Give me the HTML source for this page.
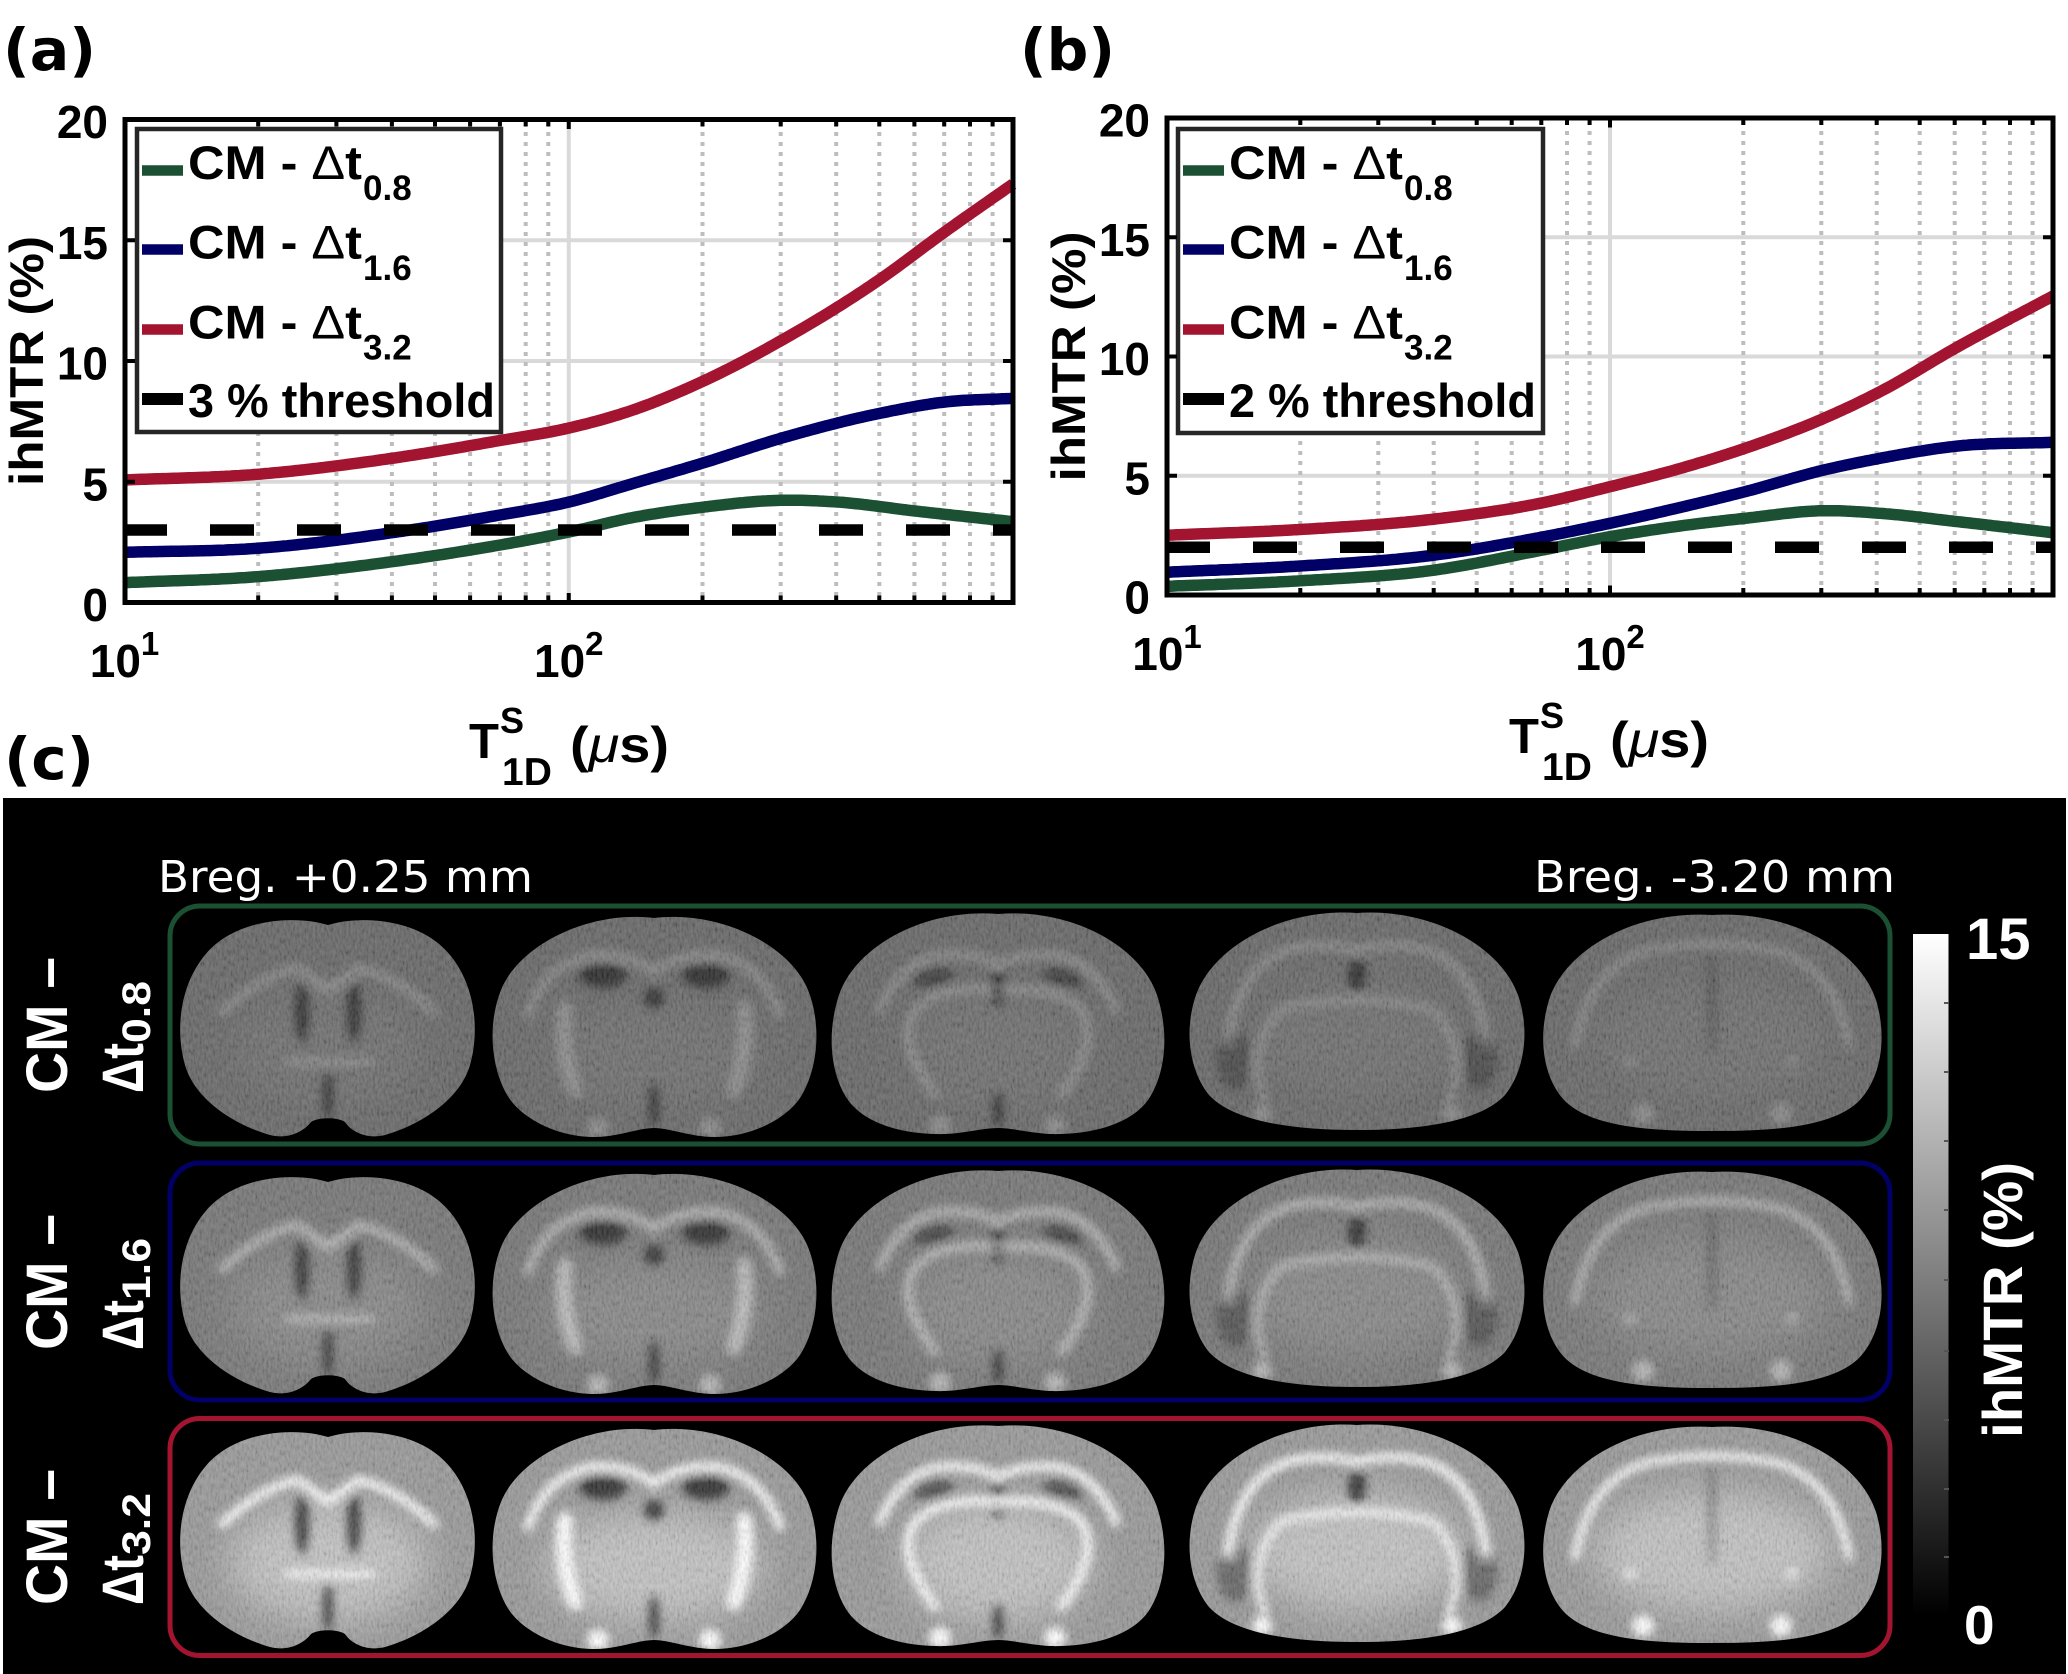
<!DOCTYPE html>
<html><head><meta charset="utf-8"><style>html,body{margin:0;padding:0;background:#fff;}svg{display:block;}</style></head>
<body>
<svg width="2068" height="1674" viewBox="0 0 2068 1674" xmlns="http://www.w3.org/2000/svg" font-family="'Liberation Sans', Arial, sans-serif">
<defs>
<linearGradient id="cb" x1="0" y1="0" x2="0" y2="1"><stop offset="0" stop-color="#ffffff"/><stop offset="1" stop-color="#000000"/></linearGradient>
<filter id="bl" x="-10%" y="-20%" width="120%" height="140%"><feGaussianBlur stdDeviation="4.5"/></filter>
<filter id="bl2" x="-10%" y="-30%" width="120%" height="160%"><feGaussianBlur stdDeviation="18"/></filter>
<filter id="nz" filterUnits="userSpaceOnUse" x="160" y="895" width="1740" height="260">
 <feTurbulence type="fractalNoise" baseFrequency="0.45 0.18" numOctaves="2" seed="3"/>
 <feColorMatrix type="matrix" values="1.6 0 0 0 -0.3  1.6 0 0 0 -0.3  1.6 0 0 0 -0.3  0 0 0 0 0.16"/>
</filter>
<path id="b1" d="M328 925 C360 915 420 918 450 955 C475 985 480 1030 470 1065 C460 1100 420 1125 385 1135 C365 1140 350 1130 345 1122 C338 1117 318 1117 311 1122 C305 1130 290 1140 270 1135 C235 1125 195 1100 185 1065 C175 1030 180 985 205 955 C235 918 296 915 328 925 Z"/>
<path id="b2" d="M654 918 C720 910 790 945 808 990 C822 1025 818 1070 800 1098 C785 1120 750 1137 715 1137 C690 1137 670 1128 654 1128 C638 1128 618 1137 594 1137 C559 1137 524 1120 509 1098 C491 1070 487 1025 501 990 C519 945 589 910 654 918 Z"/>
<path id="b3" d="M998 914 C1070 908 1140 945 1157 995 C1170 1035 1165 1075 1148 1100 C1130 1125 1090 1135 1050 1134 C1030 1133 1012 1128 998 1128 C984 1128 966 1133 946 1134 C906 1135 866 1125 848 1100 C831 1075 826 1035 839 995 C856 945 926 908 998 914 Z"/>
<path id="b4" d="M1357 913 C1430 908 1500 945 1518 995 C1530 1030 1525 1070 1505 1095 C1480 1122 1420 1130 1357 1130 C1294 1130 1234 1122 1209 1095 C1189 1070 1184 1030 1196 995 C1214 945 1284 908 1357 913 Z"/>
<path id="b5" d="M1712 915 C1790 910 1860 950 1876 1000 C1888 1040 1880 1080 1858 1102 C1830 1128 1770 1131 1712 1131 C1654 1131 1594 1128 1566 1102 C1544 1080 1537 1040 1549 1000 C1565 950 1634 910 1712 915 Z"/>
<clipPath id="call"><use href="#b1"/><use href="#b2"/><use href="#b3"/><use href="#b4"/><use href="#b5"/></clipPath>
<g id="L" fill="none" stroke="#fff" stroke-width="9" stroke-linecap="round">
 <path d="M222 1012 Q262 975 298 968 L328 990 L358 968 Q394 975 434 1012"/>
 <path d="M288 1062 L372 1062" stroke-width="7"/>
 <path d="M528 1015 Q545 965 590 955 Q630 952 654 972 Q678 952 718 955 Q763 965 780 1015"/>
 <path d="M565 1008 Q560 1050 575 1090" stroke-width="16"/>
 <path d="M744 1008 Q749 1050 734 1090" stroke-width="16"/>
 <path d="M880 1010 Q900 962 940 955 Q975 952 998 965 Q1021 952 1056 955 Q1096 962 1116 1010"/>
 <path d="M935 1095 Q895 1040 915 1010 Q940 985 998 990 Q1056 985 1081 1010 Q1101 1040 1061 1095"/>
 <path d="M1228 1040 Q1240 960 1295 948 Q1330 942 1357 950 Q1384 942 1419 948 Q1474 960 1486 1040"/>
 <path d="M1265 1100 Q1245 1050 1280 1010 Q1357 990 1434 1010 Q1469 1050 1449 1100" stroke-width="7"/>
 <path d="M1575 1045 Q1590 965 1650 950 Q1712 938 1774 950 Q1834 965 1849 1045" stroke-width="8"/>
 <g fill="#fff" stroke="none">
  <circle cx="598" cy="1128" r="11"/><circle cx="710" cy="1128" r="11"/>
  <circle cx="940" cy="1126" r="11"/><circle cx="1055" cy="1126" r="11"/>
  <circle cx="1262" cy="1114" r="10"/><circle cx="1452" cy="1114" r="10"/>
  <circle cx="1643" cy="1114" r="11"/><circle cx="1781" cy="1114" r="11"/>
  <circle cx="1630" cy="1062" r="7" opacity=".6"/><circle cx="1792" cy="1062" r="7" opacity=".6"/>
 </g>
</g>
<g id="L2" fill="#fff">
 <ellipse cx="328" cy="1050" rx="100" ry="60"/>
 <ellipse cx="654" cy="1055" rx="110" ry="55"/>
 <ellipse cx="998" cy="1050" rx="95" ry="60"/>
 <ellipse cx="1357" cy="1040" rx="110" ry="60"/>
 <ellipse cx="1712" cy="1040" rx="120" ry="60"/>
</g>
<g id="D" fill="#000">
 <ellipse cx="302" cy="1012" rx="7" ry="30"/><ellipse cx="354" cy="1012" rx="7" ry="30"/><ellipse cx="328" cy="1095" rx="5" ry="25"/>
 <ellipse cx="603" cy="975" rx="24" ry="13"/><ellipse cx="706" cy="975" rx="24" ry="13"/><circle cx="654" cy="998" r="10"/><ellipse cx="654" cy="1105" rx="5" ry="22"/>
 <ellipse cx="932" cy="977" rx="22" ry="12" opacity=".7"/><ellipse cx="1064" cy="977" rx="22" ry="12" opacity=".7"/><ellipse cx="998" cy="987" rx="9" ry="18"/><ellipse cx="998" cy="1110" rx="5" ry="18"/>
 <ellipse cx="1357" cy="975" rx="9" ry="18"/><ellipse cx="1235" cy="1060" rx="18" ry="30" opacity=".5"/><ellipse cx="1479" cy="1060" rx="18" ry="30" opacity=".5"/>
 <ellipse cx="1712" cy="1000" rx="5" ry="55" opacity=".35"/>
</g>
</defs>

<rect width="2068" height="1674" fill="#fff"/>

<!-- ===== Panel (a) ===== -->
<g stroke="#d9d9d9" stroke-width="4">
 <line x1="125" y1="481.75" x2="1013" y2="481.75"/>
 <line x1="125" y1="361" x2="1013" y2="361"/>
 <line x1="125" y1="240.25" x2="1013" y2="240.25"/>
 <line x1="568.75" y1="119.5" x2="568.75" y2="602.5"/>
</g>
<g stroke="#bdbdbd" stroke-width="4" stroke-dasharray="4 6">
 <line x1="258.2" y1="122" x2="258.2" y2="600"/><line x1="336.4" y1="122" x2="336.4" y2="600"/><line x1="391.9" y1="122" x2="391.9" y2="600"/><line x1="435" y1="122" x2="435" y2="600"/><line x1="470.1" y1="122" x2="470.1" y2="600"/><line x1="499.9" y1="122" x2="499.9" y2="600"/><line x1="525.7" y1="122" x2="525.7" y2="600"/><line x1="548.3" y1="122" x2="548.3" y2="600"/>
 <line x1="702.5" y1="122" x2="702.5" y2="600"/><line x1="780.7" y1="122" x2="780.7" y2="600"/><line x1="836.2" y1="122" x2="836.2" y2="600"/><line x1="879.3" y1="122" x2="879.3" y2="600"/><line x1="914.4" y1="122" x2="914.4" y2="600"/><line x1="944.2" y1="122" x2="944.2" y2="600"/><line x1="970" y1="122" x2="970" y2="600"/><line x1="992.6" y1="122" x2="992.6" y2="600"/>
</g>
<g fill="none" stroke-width="11.5" stroke-linejoin="round">
 <polyline class="sm" stroke="#a2142f" points="124,480 257,474.3 392,458.3 500,440.5 569,428 633,410 702,381.7 781,340.7 879,280 945,231.7 1013,184"/>
 <polyline class="sm" stroke="#000066" points="124,552.3 257,548.3 392,532.7 500,515 569,502 633,483.5 702,463.3 781,438.3 879,413.5 945,402 1013,398.3"/>
 <polyline class="sm" stroke="#1b5033" points="124,582.7 257,576.7 392,561.7 500,545 569,532 633,517.5 702,507.3 781,500.3 837,502 915,511 1013,521.7"/>
</g>
<line x1="123" y1="530" x2="1013" y2="530" stroke="#000" stroke-width="11.5" stroke-dasharray="44 43"/>
<!-- legend a -->
<rect x="137" y="129" width="364" height="303" fill="#fff" stroke="#262626" stroke-width="4.5"/>
<g stroke-width="10.5">
 <line x1="142" y1="170.5" x2="183" y2="170.5" stroke="#1b5033"/>
 <line x1="142" y1="249.5" x2="183" y2="249.5" stroke="#000066"/>
 <line x1="142" y1="329.5" x2="183" y2="329.5" stroke="#a2142f"/>
 <line x1="142" y1="399" x2="183" y2="399" stroke="#000" stroke-width="12"/>
</g>
<g font-weight="bold" fill="#000">
 <text x="188" y="179" font-size="47" textLength="174" lengthAdjust="spacingAndGlyphs">CM - <tspan font-weight="normal">Δ</tspan>t</text><text x="363" y="200" font-size="35">0.8</text>
 <text x="188" y="258.5" font-size="47" textLength="174" lengthAdjust="spacingAndGlyphs">CM - <tspan font-weight="normal">Δ</tspan>t</text><text x="363" y="280" font-size="35">1.6</text>
 <text x="188" y="338.5" font-size="47" textLength="174" lengthAdjust="spacingAndGlyphs">CM - <tspan font-weight="normal">Δ</tspan>t</text><text x="363" y="359.5" font-size="35">3.2</text>
 <text x="188" y="417" font-size="47" textLength="307" lengthAdjust="spacingAndGlyphs">3 % threshold</text>
</g>
<!-- axes a -->
<g stroke="#000" stroke-width="4">
 <line x1="125" y1="481.75" x2="135" y2="481.75"/><line x1="125" y1="361" x2="135" y2="361"/><line x1="125" y1="240.25" x2="135" y2="240.25"/>
 <line x1="1003" y1="481.75" x2="1013" y2="481.75"/><line x1="1003" y1="361" x2="1013" y2="361"/><line x1="1003" y1="240.25" x2="1013" y2="240.25"/>
 <line x1="568.75" y1="119.5" x2="568.75" y2="129"/><line x1="568.75" y1="593" x2="568.75" y2="602.5"/>
 <path d="M258.2 119.5v7M336.4 119.5v7M391.9 119.5v7M435 119.5v7M470.1 119.5v7M499.9 119.5v7M525.7 119.5v7M548.3 119.5v7M702.5 119.5v7M780.7 119.5v7M836.2 119.5v7M879.3 119.5v7M914.4 119.5v7M944.2 119.5v7M970 119.5v7M992.6 119.5v7"/>
 <path d="M258.2 602.5v-7M336.4 602.5v-7M391.9 602.5v-7M435 602.5v-7M470.1 602.5v-7M499.9 602.5v-7M525.7 602.5v-7M548.3 602.5v-7M702.5 602.5v-7M780.7 602.5v-7M836.2 602.5v-7M879.3 602.5v-7M914.4 602.5v-7M944.2 602.5v-7M970 602.5v-7M992.6 602.5v-7"/>
</g>
<rect x="125" y="119.5" width="888" height="483" fill="none" stroke="#000" stroke-width="5"/>
<g font-weight="bold" font-size="46" fill="#000" text-anchor="end">
 <text x="108" y="621">0</text><text x="108" y="500.25">5</text><text x="108" y="379.5">10</text><text x="108" y="258.75">15</text><text x="108" y="138">20</text>
</g>
<g font-weight="bold" font-size="46" fill="#000" text-anchor="middle">
 <text x="124.5" y="677">10<tspan font-size="33" dy="-22">1</tspan></text>
 <text x="568.75" y="677">10<tspan font-size="33" dy="-22">2</tspan></text>
</g>
<g font-weight="bold" fill="#000">
 <text x="469" y="758" font-size="49">T</text>
 <text x="500" y="733" font-size="36">S</text>
 <text x="502" y="785" font-size="39">1D</text>
 <text x="570" y="762" font-size="50" textLength="99" lengthAdjust="spacingAndGlyphs">(<tspan font-style="italic" font-weight="normal">μ</tspan>s)</text>
 <text transform="translate(43,361) rotate(-90)" text-anchor="middle" font-size="47" textLength="250" lengthAdjust="spacingAndGlyphs">ihMTR (%)</text>
</g>

<!-- ===== Panel (b) ===== -->
<g stroke="#d9d9d9" stroke-width="4">
 <line x1="1167" y1="475.75" x2="2053" y2="475.75"/>
 <line x1="1167" y1="356.5" x2="2053" y2="356.5"/>
 <line x1="1167" y1="237.25" x2="2053" y2="237.25"/>
 <line x1="1610" y1="118" x2="1610" y2="595"/>
</g>
<g stroke="#bdbdbd" stroke-width="4" stroke-dasharray="4 6">
 <line x1="1300.3" y1="121" x2="1300.3" y2="593"/><line x1="1378.3" y1="121" x2="1378.3" y2="593"/><line x1="1433.7" y1="121" x2="1433.7" y2="593"/><line x1="1476.7" y1="121" x2="1476.7" y2="593"/><line x1="1511.7" y1="121" x2="1511.7" y2="593"/><line x1="1541.3" y1="121" x2="1541.3" y2="593"/><line x1="1567" y1="121" x2="1567" y2="593"/><line x1="1589.6" y1="121" x2="1589.6" y2="593"/>
 <line x1="1743.3" y1="121" x2="1743.3" y2="593"/><line x1="1821.3" y1="121" x2="1821.3" y2="593"/><line x1="1876.7" y1="121" x2="1876.7" y2="593"/><line x1="1919.7" y1="121" x2="1919.7" y2="593"/><line x1="1954.7" y1="121" x2="1954.7" y2="593"/><line x1="1984.3" y1="121" x2="1984.3" y2="593"/><line x1="2010" y1="121" x2="2010" y2="593"/><line x1="2032.6" y1="121" x2="2032.6" y2="593"/>
</g>
<g fill="none" stroke-width="11.5" stroke-linejoin="round">
 <polyline class="sm" stroke="#a2142f" points="1167,535.2 1300,529.5 1435,519 1540,503.3 1610,486.7 1680,468.5 1745,448.3 1824,418.3 1880,391.7 1958,346.7 2053,296"/>
 <polyline class="sm" stroke="#000066" points="1167,572.2 1300,566 1435,555 1540,537.5 1610,523.3 1680,507.5 1745,491.7 1824,470 1880,458.3 1958,446 2053,442.3"/>
 <polyline class="sm" stroke="#1b5033" points="1167,586.3 1300,580.8 1435,570 1540,550.5 1610,536.7 1680,526 1745,518.3 1824,510.7 1880,513.3 1958,521.7 2053,532.7"/>
</g>
<line x1="1166" y1="547.3" x2="2053" y2="547.3" stroke="#000" stroke-width="11.5" stroke-dasharray="44 43"/>
<rect x="1178" y="129" width="365" height="304" fill="#fff" stroke="#262626" stroke-width="4.5"/>
<g stroke-width="10.5">
 <line x1="1183" y1="170.5" x2="1224" y2="170.5" stroke="#1b5033"/>
 <line x1="1183" y1="249.5" x2="1224" y2="249.5" stroke="#000066"/>
 <line x1="1183" y1="329.5" x2="1224" y2="329.5" stroke="#a2142f"/>
 <line x1="1183" y1="399" x2="1224" y2="399" stroke="#000" stroke-width="12"/>
</g>
<g font-weight="bold" fill="#000">
 <text x="1229" y="179" font-size="47" textLength="174" lengthAdjust="spacingAndGlyphs">CM - <tspan font-weight="normal">Δ</tspan>t</text><text x="1404" y="200" font-size="35">0.8</text>
 <text x="1229" y="258.5" font-size="47" textLength="174" lengthAdjust="spacingAndGlyphs">CM - <tspan font-weight="normal">Δ</tspan>t</text><text x="1404" y="280" font-size="35">1.6</text>
 <text x="1229" y="338.5" font-size="47" textLength="174" lengthAdjust="spacingAndGlyphs">CM - <tspan font-weight="normal">Δ</tspan>t</text><text x="1404" y="359.5" font-size="35">3.2</text>
 <text x="1229" y="417" font-size="47" textLength="307" lengthAdjust="spacingAndGlyphs">2 % threshold</text>
</g>
<g stroke="#000" stroke-width="4">
 <line x1="1167" y1="475.75" x2="1177" y2="475.75"/><line x1="1167" y1="356.5" x2="1177" y2="356.5"/><line x1="1167" y1="237.25" x2="1177" y2="237.25"/>
 <line x1="2043" y1="475.75" x2="2053" y2="475.75"/><line x1="2043" y1="356.5" x2="2053" y2="356.5"/><line x1="2043" y1="237.25" x2="2053" y2="237.25"/>
 <line x1="1610" y1="118" x2="1610" y2="127.5"/><line x1="1610" y1="585.5" x2="1610" y2="595"/>
 <path d="M1300.3 118v7M1378.3 118v7M1433.7 118v7M1476.7 118v7M1511.7 118v7M1541.3 118v7M1567 118v7M1589.6 118v7M1743.3 118v7M1821.3 118v7M1876.7 118v7M1919.7 118v7M1954.7 118v7M1984.3 118v7M2010 118v7M2032.6 118v7"/>
 <path d="M1300.3 595v-7M1378.3 595v-7M1433.7 595v-7M1476.7 595v-7M1511.7 595v-7M1541.3 595v-7M1567 595v-7M1589.6 595v-7M1743.3 595v-7M1821.3 595v-7M1876.7 595v-7M1919.7 595v-7M1954.7 595v-7M1984.3 595v-7M2010 595v-7M2032.6 595v-7"/>
</g>
<rect x="1167" y="118" width="886" height="477" fill="none" stroke="#000" stroke-width="5"/>
<g font-weight="bold" font-size="46" fill="#000" text-anchor="end">
 <text x="1150" y="613.5">0</text><text x="1150" y="494.25">5</text><text x="1150" y="375">10</text><text x="1150" y="255.75">15</text><text x="1150" y="136.5">20</text>
</g>
<g font-weight="bold" font-size="46" fill="#000" text-anchor="middle">
 <text x="1167" y="670">10<tspan font-size="33" dy="-22">1</tspan></text>
 <text x="1610" y="670">10<tspan font-size="33" dy="-22">2</tspan></text>
</g>
<g font-weight="bold" fill="#000">
 <text x="1509" y="753" font-size="49">T</text>
 <text x="1540" y="728" font-size="36">S</text>
 <text x="1542" y="780" font-size="39">1D</text>
 <text x="1610" y="757" font-size="50" textLength="99" lengthAdjust="spacingAndGlyphs">(<tspan font-style="italic" font-weight="normal">μ</tspan>s)</text>
 <text transform="translate(1085,356.5) rotate(-90)" text-anchor="middle" font-size="47" textLength="250" lengthAdjust="spacingAndGlyphs">ihMTR (%)</text>
</g>

<!-- panel letters -->
<g font-family="'DejaVu Sans', 'Liberation Sans', sans-serif" font-weight="bold" font-size="58" fill="#000">
 <text x="3" y="70" textLength="93" lengthAdjust="spacingAndGlyphs">(a)</text>
 <text x="1020" y="70" textLength="95" lengthAdjust="spacingAndGlyphs">(b)</text>
 <text x="4" y="779" textLength="90" lengthAdjust="spacingAndGlyphs">(c)</text>
</g>

<!-- ===== Panel (c) ===== -->
<rect x="3" y="798" width="2063" height="876" fill="#000"/>
<g font-family="'DejaVu Sans', 'Liberation Sans', sans-serif" font-size="43.5" fill="#fff">
 <text x="158" y="892" textLength="375" lengthAdjust="spacingAndGlyphs">Breg. +0.25 mm</text>
 <text x="1534" y="892" textLength="361" lengthAdjust="spacingAndGlyphs">Breg. -3.20 mm</text>
</g>
<g fill="none" stroke-width="5">
 <rect x="170" y="906" width="1720" height="238" rx="30" stroke="#1b5033"/>
 <rect x="170" y="1163" width="1720" height="237" rx="30" stroke="#000066"/>
 <rect x="170" y="1418.5" width="1720" height="237" rx="30" stroke="#a2142f"/>
</g>

<!-- brains row 1 (green) -->
<g>
 <g fill="#626262"><use href="#b1"/><use href="#b2"/><use href="#b3"/><use href="#b4"/><use href="#b5"/></g>
 <g clip-path="url(#call)">
  <g filter="url(#bl2)"><use href="#L2" opacity=".05"/></g>
  <g filter="url(#bl)"><use href="#D" opacity=".6"/><use href="#L" opacity=".22"/></g>
  <rect x="170" y="905" width="1720" height="240" filter="url(#nz)"/>
 </g>
</g>
<!-- row 2 (blue) -->
<g transform="translate(0,257)">
 <g fill="#727272"><use href="#b1"/><use href="#b2"/><use href="#b3"/><use href="#b4"/><use href="#b5"/></g>
 <g clip-path="url(#call)">
  <g filter="url(#bl2)"><use href="#L2" opacity=".12"/></g>
  <g filter="url(#bl)"><use href="#D" opacity=".62"/><use href="#L" opacity=".45"/></g>
  <rect x="170" y="905" width="1720" height="240" filter="url(#nz)"/>
 </g>
</g>
<!-- row 3 (red) -->
<g transform="translate(0,512)">
 <g fill="#959595"><use href="#b1"/><use href="#b2"/><use href="#b3"/><use href="#b4"/><use href="#b5"/></g>
 <g clip-path="url(#call)">
  <g filter="url(#bl2)"><use href="#L2" opacity=".4"/></g>
  <g filter="url(#bl)"><use href="#D" opacity=".7"/><use href="#L" opacity="1"/></g>
  <rect x="170" y="905" width="1720" height="240" filter="url(#nz)"/>
 </g>
</g>

<!-- row labels -->
<g font-weight="bold" fill="#fff">
 <text transform="translate(67,1093) rotate(-90)" font-size="58" textLength="136" lengthAdjust="spacingAndGlyphs">CM –</text>
 <text transform="translate(143,1093) rotate(-90)" font-size="58" textLength="50" lengthAdjust="spacingAndGlyphs">Δt</text>
 <text transform="translate(150,1043) rotate(-90)" font-size="40" textLength="62" lengthAdjust="spacingAndGlyphs">0.8</text>
 <text transform="translate(67,1350) rotate(-90)" font-size="58" textLength="136" lengthAdjust="spacingAndGlyphs">CM –</text>
 <text transform="translate(143,1350) rotate(-90)" font-size="58" textLength="50" lengthAdjust="spacingAndGlyphs">Δt</text>
 <text transform="translate(150,1300) rotate(-90)" font-size="40" textLength="62" lengthAdjust="spacingAndGlyphs">1.6</text>
 <text transform="translate(67,1605) rotate(-90)" font-size="58" textLength="136" lengthAdjust="spacingAndGlyphs">CM –</text>
 <text transform="translate(143,1605) rotate(-90)" font-size="58" textLength="50" lengthAdjust="spacingAndGlyphs">Δt</text>
 <text transform="translate(150,1555) rotate(-90)" font-size="40" textLength="62" lengthAdjust="spacingAndGlyphs">3.2</text>
</g>

<!-- colorbar -->
<rect x="1913" y="934" width="35.5" height="682" fill="url(#cb)"/>
<g stroke="#555" stroke-width="2">
 <path d="M1944 1003h5M1944 1072h5M1944 1141h5M1944 1210h5M1944 1280h5M1944 1351h5M1944 1420h5M1944 1489h5M1944 1557h5"/>
</g>
<g font-weight="bold" fill="#fff">
 <text x="1966" y="959" font-size="58">15</text>
 <text x="1964" y="1644" font-size="55">0</text>
 <text transform="translate(2022,1300) rotate(-90)" text-anchor="middle" font-size="56" textLength="276" lengthAdjust="spacingAndGlyphs">ihMTR (%)</text>
</g>
</svg>
<script>
(function(){
 var pls=document.querySelectorAll('polyline.sm');
 for(var q=0;q<pls.length;q++){
  var pl=pls[q];
  var p=pl.getAttribute('points').trim().split(/\s+/).map(function(s){var a=s.split(',');return [+a[0],+a[1]];});
  var n=p.length,m=[],i;
  for(i=0;i<n;i++){
   if(i==0) m.push((p[1][1]-p[0][1])/(p[1][0]-p[0][0]));
   else if(i==n-1) m.push((p[n-1][1]-p[n-2][1])/(p[n-1][0]-p[n-2][0]));
   else {var h0=p[i][0]-p[i-1][0],h1=p[i+1][0]-p[i][0];var d0=(p[i][1]-p[i-1][1])/h0,d1=(p[i+1][1]-p[i][1])/h1;m.push((h1*d0+h0*d1)/(h0+h1));}
  }
  var out=[];
  for(i=0;i<n-1;i++){
   var x0=p[i][0],x1=p[i+1][0],h=x1-x0,y0=p[i][1],y1=p[i+1][1];
   var k=Math.max(2,Math.ceil(h/3));
   for(var j=0;j<k;j++){var t=j/k,t2=t*t,t3=t2*t;
    var y=(2*t3-3*t2+1)*y0+(t3-2*t2+t)*h*m[i]+(-2*t3+3*t2)*y1+(t3-t2)*h*m[i+1];
    out.push((x0+t*h).toFixed(1)+','+y.toFixed(1));}
  }
  out.push(p[n-1][0]+','+p[n-1][1]);
  pl.setAttribute('points',out.join(' '));
 }
})();
</script>
</body></html>
